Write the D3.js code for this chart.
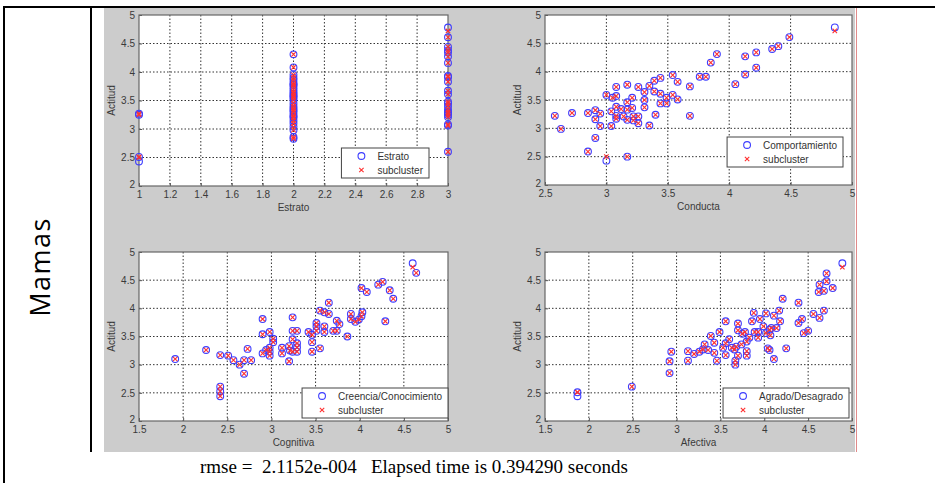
<!DOCTYPE html>
<html>
<head>
<meta charset="utf-8">
<script src="https://cdn.jsdelivr.net/npm/d3@7"></script>
<style>
body { margin: 0; background: #fff; }
svg text { font-family: "Liberation Sans", Arial, sans-serif; }
</style>
</head>
<body>
<svg id="chart" width="935" height="483"></svg>
<script>
// Actitud vs each variable
var estrato = [
    [1, 3.27], [1, 3.25], [1, 2.51], [1, 2.43],
    [2, 4.31], [2, 4.08], [2, 3.95], [2, 3.90], [2, 3.86], [2, 3.81], [2, 3.78], [2, 3.77],
    [2, 3.73], [2, 3.69], [2, 3.65], [2, 3.62], [2, 3.59], [2, 3.57], [2, 3.55], [2, 3.51],
    [2, 3.45], [2, 3.40], [2, 3.36], [2, 3.33], [2, 3.30], [2, 3.25], [2, 3.22], [2, 3.20],
    [2, 3.15], [2, 3.10], [2, 3.04], [2, 2.98], [2, 2.86], [2, 2.83],
    [3, 4.78], [3, 4.61], [3, 4.44], [3, 4.38], [3, 4.34], [3, 4.27], [3, 4.16], [3, 3.93],
    [3, 3.91], [3, 3.83], [3, 3.67], [3, 3.61], [3, 3.48], [3, 3.45], [3, 3.40], [3, 3.34],
    [3, 3.30], [3, 3.28], [3, 3.25], [3, 3.21], [3, 3.08], [3, 3.06], [3, 2.60]
];
var conducta = [
    [2.58, 3.22], [2.63, 2.99], [2.72, 3.27], [2.85, 3.27], [2.85, 2.59], [2.91, 3.32],
    [2.91, 3.16], [2.91, 2.83], [2.95, 3.04], [2.95, 3.26], [3.00, 3.59], [3.00, 2.43],
    [3.04, 3.30], [3.04, 3.04], [3.05, 3.54], [3.08, 3.73], [3.08, 3.57], [3.08, 3.38],
    [3.08, 3.22], [3.08, 3.17], [3.12, 3.34], [3.14, 3.21], [3.17, 3.77], [3.17, 3.46],
    [3.17, 3.33], [3.17, 3.15], [3.17, 2.50], [3.21, 3.54], [3.21, 3.36], [3.22, 3.21],
    [3.22, 3.14], [3.26, 3.73], [3.26, 3.21], [3.26, 3.09], [3.31, 3.64], [3.31, 3.50],
    [3.31, 3.37], [3.35, 3.75], [3.35, 3.05], [3.39, 3.84], [3.39, 3.65], [3.40, 3.24],
    [3.44, 3.89], [3.44, 3.61], [3.44, 3.44], [3.49, 3.54], [3.49, 3.44], [3.54, 3.94],
    [3.54, 3.59], [3.58, 3.82], [3.58, 3.51], [3.68, 3.74], [3.68, 3.22], [3.76, 3.91],
    [3.81, 3.91], [3.85, 4.16], [3.90, 4.31], [4.05, 3.78], [4.13, 4.27], [4.13, 3.95],
    [4.22, 4.34], [4.22, 4.07], [4.35, 4.40], [4.40, 4.45], [4.49, 4.61], [4.86, 4.78]
];
var cognitiva = [
    [1.91, 3.10], [2.26, 3.26], [2.42, 3.17], [2.42, 2.61], [2.42, 2.53], [2.42, 2.44],
    [2.51, 3.16], [2.57, 3.08], [2.64, 3.00], [2.69, 3.08], [2.69, 2.84], [2.73, 3.28],
    [2.77, 3.08], [2.90, 3.81], [2.90, 3.54], [2.90, 3.20], [2.94, 3.26], [2.98, 3.58],
    [2.98, 3.30], [2.98, 3.23], [2.98, 3.16], [3.02, 3.46], [3.02, 3.40], [3.12, 3.30],
    [3.12, 3.20], [3.20, 3.06], [3.20, 3.33], [3.21, 3.25], [3.24, 3.84], [3.24, 3.60],
    [3.24, 3.45], [3.24, 3.23], [3.29, 3.60], [3.29, 3.38], [3.29, 3.31], [3.29, 3.23],
    [3.42, 3.58], [3.46, 3.53], [3.46, 3.40], [3.46, 3.23], [3.51, 3.74], [3.51, 3.68],
    [3.51, 3.60], [3.55, 3.29], [3.55, 3.96], [3.60, 3.93], [3.60, 3.68], [3.60, 3.58],
    [3.65, 4.10], [3.65, 3.90], [3.70, 3.60], [3.74, 3.78], [3.74, 3.60], [3.77, 3.72],
    [3.86, 3.50], [3.90, 3.90], [3.90, 3.81], [3.95, 3.76], [3.99, 3.80], [4.02, 3.86],
    [4.03, 3.93], [4.02, 4.36], [4.08, 4.29], [4.21, 4.42], [4.26, 4.47], [4.34, 4.32],
    [4.38, 4.17], [4.29, 3.77], [4.60, 4.80], [4.64, 4.63]
];
var afectiva = [
    [1.87, 2.51], [1.87, 2.44], [2.49, 2.61], [2.92, 3.06], [2.92, 2.85], [2.94, 3.23],
    [3.13, 3.24], [3.13, 3.07], [3.20, 3.19], [3.26, 3.23], [3.30, 3.27], [3.32, 3.36],
    [3.36, 3.26], [3.39, 3.51], [3.43, 3.39], [3.43, 3.21], [3.46, 3.07], [3.49, 3.58],
    [3.53, 3.30], [3.56, 3.77], [3.56, 3.38], [3.56, 3.17], [3.60, 3.45], [3.63, 3.30],
    [3.66, 3.27], [3.67, 3.07], [3.67, 3.00], [3.68, 3.32], [3.70, 3.73], [3.70, 3.61],
    [3.70, 3.16], [3.74, 3.36], [3.75, 3.55], [3.78, 3.58], [3.80, 3.41], [3.80, 3.24],
    [3.80, 3.16], [3.83, 3.48], [3.86, 3.77], [3.88, 3.92], [3.89, 3.58], [3.93, 3.58],
    [3.93, 3.48], [3.95, 3.81], [3.99, 3.68], [4.02, 3.91], [4.02, 3.56], [4.04, 3.29],
    [4.06, 3.26], [4.06, 3.62], [4.08, 3.65], [4.07, 3.52], [4.11, 3.87], [4.11, 3.10],
    [4.14, 3.65], [4.17, 3.96], [4.18, 3.77], [4.21, 4.17], [4.25, 3.29], [4.39, 4.10],
    [4.39, 3.74], [4.43, 3.81], [4.45, 3.56], [4.50, 3.60], [4.56, 3.90], [4.62, 4.29],
    [4.63, 3.83], [4.63, 4.42], [4.68, 4.31], [4.68, 3.96], [4.71, 4.62], [4.71, 4.48],
    [4.78, 4.36], [4.89, 4.80]
];

// subcluster points that do not sit on the data point: [x, y data, y subcluster]
var estratoSub = [[3, 4.78, 4.72], [1, 2.43, 2.5]];
var conductaSub = [[3.00, 2.43, 2.5], [4.86, 4.78, 4.72]];
var cognitivaSub = [[4.60, 4.80, 4.73]];
var afectivaSub = [[4.89, 4.80, 4.73], [1.87, 2.44, 2.51]];

var yTicks = [2, 2.5, 3, 3.5, 4, 4.5, 5];
var estratoTicks = [1, 1.2, 1.4, 1.6, 1.8, 2, 2.2, 2.4, 2.6, 2.8, 3];
var conductaTicks = [2.5, 3, 3.5, 4, 4.5, 5];
var cogTicks = [1.5, 2, 2.5, 3, 3.5, 4, 4.5, 5];

// box = axes [x0, y0, x1, y1]; leg = legend [right, top]
var panels = [
    {data: estrato, sub: estratoSub, xt: estratoTicks, xl: "Estrato", name: "Estrato",
     box: [139, 15, 448, 186], leg: [429, 148]},
    {data: conducta, sub: conductaSub, xt: conductaTicks, xl: "Conducta", name: "Comportamiento",
     box: [545, 15, 852, 185], leg: [843, 137]},
    {data: cognitiva, sub: cognitivaSub, xt: cogTicks, xl: "Cognitiva", name: "Creencia/Conocimiento",
     box: [139, 252, 448, 421], leg: [448, 388]},
    {data: afectiva, sub: afectivaSub, xt: cogTicks, xl: "Afectiva", name: "Agrado/Desagrado",
     box: [545, 252, 852, 421], leg: [849, 388]}
];

var svg = d3.select("#chart");
var fmt = function(d) { return String(+d.toFixed(2)); };
var cross = "M-2.2,-2.2L2.2,2.2M-2.2,2.2L2.2,-2.2";

// table frame
svg.append("rect").attr("x", 104).attr("y", 8).attr("width", 751).attr("height", 444).attr("fill", "#cccccc");
svg.append("line").attr("x1", 856.5).attr("x2", 856.5).attr("y1", 8).attr("y2", 452)
    .attr("stroke", "#e08a8a").attr("stroke-width", 1);
svg.append("rect").attr("x", 3).attr("y", 6).attr("width", 932).attr("height", 2).attr("fill", "#000");
svg.append("rect").attr("x", 3).attr("y", 6).attr("width", 2).attr("height", 477).attr("fill", "#000");
svg.append("rect").attr("x", 90).attr("y", 6).attr("width", 2).attr("height", 446).attr("fill", "#000");

svg.append("text")
    .attr("transform", "translate(50,267) rotate(-90)")
    .attr("text-anchor", "middle")
    .style("font-family", "'Open Sans', sans-serif")
    .style("font-size", "27px")
    .style("letter-spacing", "1.5px")
    .text("Mamas");

svg.append("text")
    .attr("x", 414).attr("y", 472.5)
    .attr("text-anchor", "middle")
    .style("font-family", "'Liberation Serif', 'Times New Roman', serif")
    .style("font-size", "19px")
    .attr("xml:space", "preserve")
    .text("rmse =  2.1152e-004   Elapsed time is 0.394290 seconds");

panels.forEach(function(p) {
    var b = p.box;
    var x = d3.scaleLinear().domain([p.xt[0], p.xt[p.xt.length - 1]]).range([b[0], b[2]]);
    var y = d3.scaleLinear().domain([2, 5]).range([b[3], b[1]]);
    var g = svg.append("g");

    g.append("rect").attr("x", b[0]).attr("y", b[1])
        .attr("width", b[2] - b[0]).attr("height", b[3] - b[1]).attr("fill", "#fff");

    // dotted grid
    g.selectAll("line.gx").data(p.xt.slice(1, -1)).enter().append("line")
        .attr("x1", function(d) { return x(d); }).attr("x2", function(d) { return x(d); })
        .attr("y1", b[1]).attr("y2", b[3])
        .attr("stroke", "#333").attr("stroke-dasharray", "1.5,2");
    g.selectAll("line.gy").data(yTicks.slice(1, -1)).enter().append("line")
        .attr("y1", function(d) { return y(d); }).attr("y2", function(d) { return y(d); })
        .attr("x1", b[0]).attr("x2", b[2])
        .attr("stroke", "#333").attr("stroke-dasharray", "1.5,2");

    // axes (inside ticks like matlab)
    var ax = g.append("g").attr("transform", "translate(0," + b[3] + ")")
        .call(d3.axisBottom(x).tickValues(p.xt).tickFormat(fmt).tickSizeInner(-3).tickSizeOuter(0).tickPadding(5));
    var ay = g.append("g").attr("transform", "translate(" + b[0] + ",0)")
        .call(d3.axisLeft(y).tickValues(yTicks).tickFormat(fmt).tickSizeInner(-3).tickSizeOuter(0).tickPadding(4));
    [ax, ay].forEach(function(a) {
        a.select(".domain").remove();
        a.selectAll("line").attr("stroke", "#555");
        a.selectAll("text").attr("fill", "#3a3a3a").style("font-size", "10px");
    });
    // lowest y label sits a bit above the corner, as in matlab
    ay.selectAll(".tick").filter(function(d) { return d === 2; }).select("text").attr("dy", "0.1em");

    g.append("rect").attr("x", b[0]).attr("y", b[1])
        .attr("width", b[2] - b[0]).attr("height", b[3] - b[1])
        .attr("fill", "none").attr("stroke", "#666").attr("stroke-width", 1.2);

    g.append("text").attr("x", (b[0] + b[2]) / 2).attr("y", b[3] + 25)
        .attr("text-anchor", "middle").attr("fill", "#3a3a3a").style("font-size", "10px").text(p.xl);
    g.append("text")
        .attr("transform", "translate(" + (b[0] - 24) + "," + ((b[1] + b[3]) / 2) + ") rotate(-90)")
        .attr("text-anchor", "middle").attr("fill", "#3a3a3a").style("font-size", "10px").text("Actitud");

    // data circles, then subcluster crosses
    g.selectAll("circle.pt").data(p.data).enter().append("circle")
        .attr("cx", function(d) { return x(d[0]); })
        .attr("cy", function(d) { return y(d[1]); })
        .attr("r", 3.4)
        .attr("fill", "none").attr("stroke", "#3d3dff").attr("stroke-width", 1.1);

    g.selectAll("path.sc").data(p.data).enter().append("path")
        .attr("d", cross)
        .attr("transform", function(d) {
            var o = p.sub.find(function(s) { return s[0] === d[0] && s[1] === d[1]; });
            var yy = o ? o[2] : d[1];
            return "translate(" + x(d[0]) + "," + y(yy) + ")";
        })
        .attr("stroke", "#ff3030").attr("stroke-width", 1.1);

    // legend, width fitted to the text and anchored on its right edge
    var lg = g.append("g");
    var box = lg.append("rect").attr("height", 30)
        .attr("fill", "#fff").attr("stroke", "#444").attr("stroke-width", 1);
    lg.append("circle").attr("cx", 20).attr("cy", 8).attr("r", 3.4)
        .attr("fill", "none").attr("stroke", "#3d3dff").attr("stroke-width", 1.1);
    lg.append("path").attr("d", cross).attr("transform", "translate(20,22)")
        .attr("stroke", "#ff3030").attr("stroke-width", 1.1);
    var t1 = lg.append("text").attr("x", 36).attr("y", 11.5).attr("fill", "#333").style("font-size", "10px").text(p.name);
    var t2 = lg.append("text").attr("x", 36).attr("y", 25.5).attr("fill", "#333").style("font-size", "10px").text("subcluster");
    var w = Math.max(t1.node().getComputedTextLength(), t2.node().getComputedTextLength()) + 42;
    box.attr("width", w);
    lg.attr("transform", "translate(" + (p.leg[0] - w) + "," + p.leg[1] + ")");
});
</script>
</body>
</html>
